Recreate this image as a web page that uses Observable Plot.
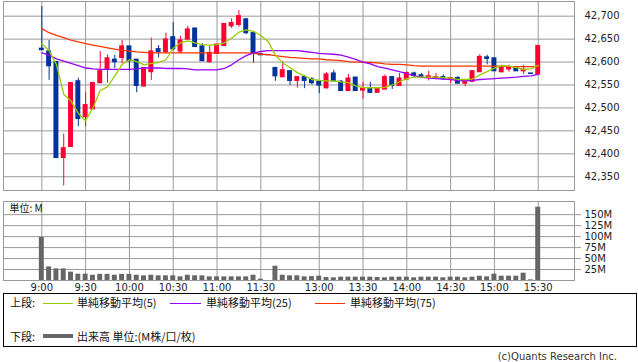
<!DOCTYPE html>
<html><head><meta charset="utf-8">
<script src="https://cdn.jsdelivr.net/npm/d3@7"></script>
<script src="https://cdn.jsdelivr.net/npm/@observablehq/plot@0.6"></script>
<style>
body{margin:0;background:#fff;}
#wrap{position:relative;width:638px;height:362px;overflow:hidden;font-family:"DejaVu Sans",sans-serif;background:#fff;}
.abs{position:absolute;}
.lg{position:absolute;font-family:"Noto Sans CJK JP",sans-serif;font-size:11px;line-height:13px;color:#111;white-space:nowrap;}
.ln{position:absolute;}
</style></head><body>
<div id="wrap">
  <div id="top" class="abs" style="left:0;top:0"></div>
  <div id="vol" class="abs" style="left:0;top:190px"></div>
  <div class="abs" style="left:3px;top:293px;width:632px;height:52px;border:1px solid #000;"></div>
  <div class="lg" style="left:10px;top:296px">上段:</div>
  <div class="ln" style="left:43px;top:303px;width:30px;height:1px;background:#99cc00"></div>
  <div class="lg" style="left:77px;top:296px">単純移動平均(5)</div>
  <div class="ln" style="left:170px;top:303px;width:31px;height:1px;background:#9900ff"></div>
  <div class="lg" style="left:206px;top:296px">単純移動平均(25)</div>
  <div class="ln" style="left:315px;top:303px;width:30px;height:1px;background:#ff3300"></div>
  <div class="lg" style="left:350px;top:296px">単純移動平均(75)</div>
  <div class="lg" style="left:10px;top:330px">下段:</div>
  <div class="ln" style="left:43px;top:334px;width:30px;height:4px;background:#666"></div>
  <div class="lg" style="left:77px;top:330px">出来高 単位:(M株/口/枚)</div>
  <div class="abs" style="right:21px;top:351px;font-size:10px;color:#333;">(c)Quants Research Inc.</div>
</div>
<script>
const times = ["9:00","9:05","9:10","9:15","9:20","9:25","9:30","9:35","9:40","9:45","9:50","9:55",
"10:00","10:05","10:10","10:15","10:20","10:25","10:30","10:35","10:40","10:45","10:50","10:55",
"11:00","11:05","11:10","11:15","11:20","11:25","11:30","12:25",
"12:30","12:35","12:40","12:45","12:50","12:55","13:00","13:05","13:10","13:15","13:20","13:25",
"13:30","13:35","13:40","13:45","13:50","13:55","14:00","14:05","14:10","14:15","14:20","14:25",
"14:30","14:35","14:40","14:45","14:50","14:55","15:00","15:05","15:10","15:15","15:20","15:25","15:30"];

const open  = [42629,42623,42600,42391,42415,42558,42480,42497,42554,42583,42605,42609,42634,42605,42547,42578,42628,42622,42654,42623,42649,42673,42634,42600,42618,42635,42678,42681,42693,42663,42617,42615,42587,42567,42580,42559,42567,42562,42557,42543,42575,42557,42537,42566,42538,42543,42533,42540,42567,42548,42562,42575,42571,42566,42564,42567,42562,42565,42553,42557,42578,42610,42608,42578,42584,42589,42580,42575,42573];
const high  = [42721,42647,42600,42443,42554,42565,42534,42556,42623,42615,42615,42647,42634,42605,42587,42652,42636,42663,42686,42656,42678,42673,42640,42634,42638,42683,42694,42712,42695,42663,42617,42615,42587,42601,42580,42567,42571,42566,42557,42577,42582,42560,42573,42566,42556,42556,42541,42572,42567,42575,42578,42578,42575,42580,42575,42572,42566,42569,42558,42580,42616,42615,42608,42593,42593,42589,42593,42575,42635];
const low   = [42625,42560,42391,42330,42415,42459,42459,42497,42554,42554,42586,42597,42580,42533,42545,42560,42609,42618,42625,42618,42649,42633,42602,42597,42618,42635,42673,42676,42660,42598,42614,42615,42558,42567,42549,42543,42542,42550,42531,42541,42558,42537,42537,42537,42519,42533,42533,42540,42540,42548,42562,42566,42564,42559,42562,42561,42553,42553,42546,42557,42578,42594,42580,42576,42578,42580,42573,42574,42573];
const close = [42626,42591,42391,42412,42554,42476,42506,42554,42580,42608,42600,42634,42602,42548,42587,42623,42622,42649,42628,42647,42671,42633,42602,42620,42638,42683,42685,42700,42663,42618,42615,42615,42569,42582,42559,42567,42559,42554,42549,42573,42558,42537,42564,42537,42542,42533,42541,42567,42548,42564,42576,42570,42567,42569,42567,42563,42565,42553,42558,42580,42611,42607,42580,42589,42589,42580,42583,42574,42635];
const ma5   = [42640,42625,42595,42530,42515,42488,42472,42500,42538,42546,42570,42595,42605,42601,42594,42597,42599,42605,42630,42642,42646,42642,42638,42637,42638,42642,42652,42665,42670,42667,42658,42645,42615,42598,42588,42577,42570,42562,42560,42559,42559,42557,42555,42548,42544,42544,42544,42545,42550,42557,42564,42567,42567,42567,42567,42566,42565,42562,42562,42563,42572,42579,42587,42592,42591,42588,42584,42585,42593];
const ma25  = [42620,42615,42607,42602,42597,42592,42587,42585,42584,42584,42584,42584,42584,42585,42587,42587,42587,42586,42586,42586,42585,42583,42583,42583,42583,42586,42594,42605,42614,42620,42623,42625,42625,42625,42625,42625,42623,42621,42619,42618,42617,42615,42611,42606,42600,42596,42590,42587,42583,42579,42575,42570,42567,42565,42564,42563,42562,42560,42559,42560,42562,42563,42564,42565,42566,42567,42569,42570,42573];
const ma75  = [42673,42664,42658,42653,42648,42644,42640,42637,42634,42631,42628,42626,42624,42622,42621,42620,42620,42620,42620,42620,42620,42620,42620,42620,42620,42620,42620,42620,42620,42619,42617,42616,42614,42612,42610,42609,42608,42607,42607,42605,42604,42603,42601,42600,42600,42599,42598,42596,42595,42595,42594,42592,42591,42591,42591,42591,42591,42591,42591,42591,42591,42591,42591,42591,42590,42590,42590,42590,42590];
const volume = [98,31,26.5,26.5,19,14.4,14.4,12,14,14,12,14,14,12,10.6,12,10.6,10.6,10.6,8.3,12,10.6,10.6,8.3,8.3,8.3,8.3,8.3,8.3,12,3,0,32.6,12,10.6,10.6,8.3,8.8,9.8,6.8,6.1,7.6,7.6,7.6,7.6,7.6,6.8,6.1,7.6,7.6,7.6,6.1,7.6,7.6,7.6,6.1,7.6,7.6,6.1,7.6,9.8,8.3,14.4,9.8,9.8,9.8,16.7,1.5,167];

const xTickLabels = ["9:00","9:30","10:00","10:30","11:00","11:30","13:00","13:30","14:00","14:30","15:00","15:30"];
const priceTicks = [42350,42400,42450,42500,42550,42600,42650,42700];
const volTicks = [25,50,75,100,125,150];

const RED = "#ff0033", BLUE = "#003399", GRID = "#999999";
const idx = d3.range(times.length);
const candles = idx.map(i => ({i, o: open[i], h: high[i], l: low[i], c: close[i]}));
const col = d => d.c > d.o ? RED : BLUE;
const gridX = xTickLabels.map(t => times.indexOf(t));
const xDomain = [-5.25, 72.97];
const half = 0.34;

const topPlot = Plot.plot({
  width: 638, height: 192,
  marginLeft: 3, marginRight: 64, marginTop: 1, marginBottom: 2,
  x: {type: "linear", domain: xDomain, axis: null},
  y: {domain: [42320, 42732], axis: null},
  style: {fontFamily: "DejaVu Sans", fontSize: "10px", color: "#222", background: "transparent"},
  marks: [
    Plot.gridY(priceTicks, {stroke: GRID, strokeOpacity: 1}),
    Plot.gridX(gridX, {stroke: GRID, strokeOpacity: 1}),
    Plot.frame({stroke: GRID}),
    Plot.axisY(priceTicks, {anchor: "right", tickSize: 0, tickPadding: 10, tickFormat: d3.format(","), fontSize: 10}),
    Plot.ruleX(candles, {x: "i", y1: "l", y2: "h", stroke: col, strokeWidth: 1}),
    Plot.rect(candles, {x1: d => d.i - half, x2: d => d.i + half,
      y1: d => Math.min(d.o, d.c), y2: d => Math.max(d.o, d.c),
      fill: col, insetTop: -0.6, insetBottom: -0.6}),
    Plot.line(idx, {x: i => i, y: i => ma75[i], stroke: "#ff3300", strokeWidth: 1.3}),
    Plot.line(idx, {x: i => i, y: i => ma25[i], stroke: "#9900ff", strokeWidth: 1.3}),
    Plot.line(idx, {x: i => i, y: i => ma5[i], stroke: "#99cc00", strokeWidth: 1.3})
  ]
});
document.getElementById("top").appendChild(topPlot);

const volPlot = Plot.plot({
  width: 638, height: 106,
  marginLeft: 3, marginRight: 64, marginTop: 11, marginBottom: 16,
  x: {type: "linear", domain: xDomain, axis: null},
  y: {domain: [0, 180], axis: null},
  style: {fontFamily: "DejaVu Sans", fontSize: "10px", color: "#222", background: "transparent"},
  marks: [
    Plot.gridY(volTicks, {stroke: GRID, strokeOpacity: 1}),
    Plot.gridX(gridX, {stroke: GRID, strokeOpacity: 1}),
    Plot.frame({stroke: GRID}),
    Plot.axisY(volTicks, {anchor: "right", tickSize: 6, tickPadding: 4, stroke: GRID, tickFormat: d => d + "M", fontSize: 10}),
    Plot.axisX(gridX, {anchor: "bottom", tickSize: 0, tickPadding: 3, tickFormat: i => times[i], fontSize: 10}),
    Plot.rectY(idx, {x1: i => i - half, x2: i => i + half, y: i => volume[i], fill: "#666666"}),
    Plot.text(["単位: M"], {frameAnchor: "top-left", dx: 6, dy: 3, textAnchor: "start", lineAnchor: "top",
      fontFamily: "Noto Sans CJK JP", fontSize: 10, fill: "#111"})
  ]
});
document.getElementById("vol").appendChild(volPlot);
</script>
</body></html>
